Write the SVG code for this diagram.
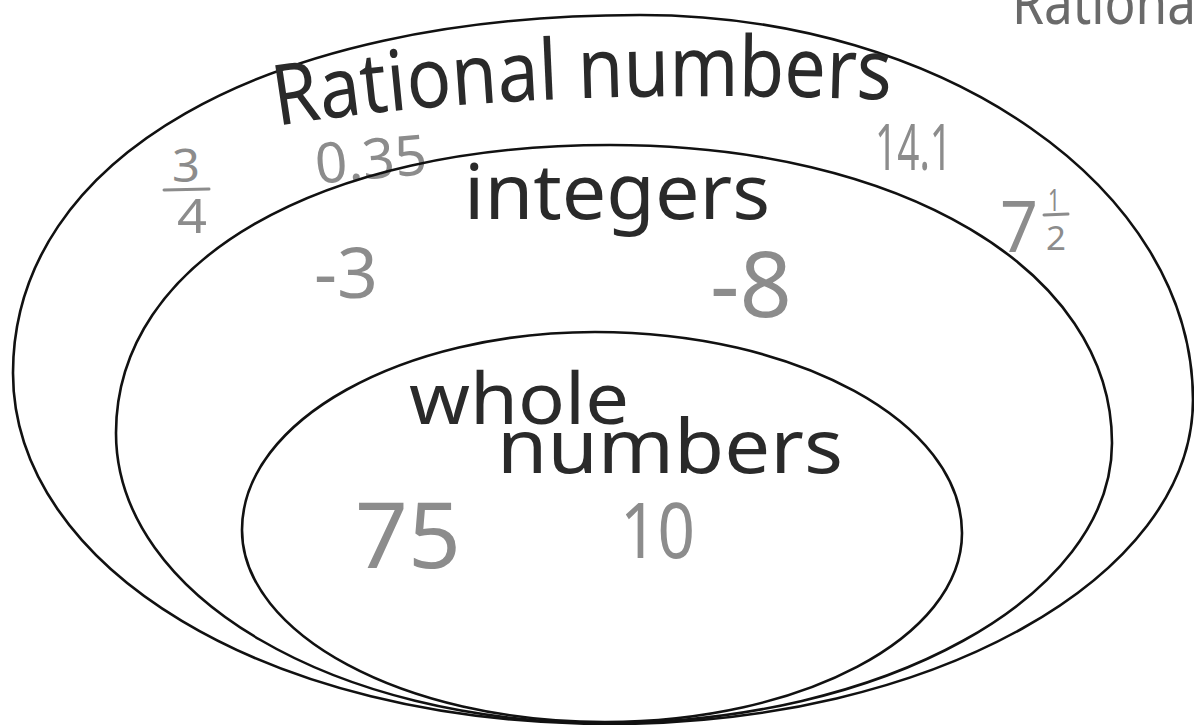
<svg xmlns="http://www.w3.org/2000/svg" width="1194" height="725" viewBox="0 0 1194 725">
  <style>
    .ring { fill: none; stroke: #111; stroke-width: 2.6; }
    .label { font-family: "Noto Sans", "Liberation Sans", sans-serif; fill: #2a2a2a; font-weight: 400; }
    .num { font-family: "Noto Sans", "Liberation Sans", sans-serif; fill: #8c8c8c; font-weight: 400; }
    .bar { stroke: #8c8c8c; stroke-width: 3; stroke-linecap: round; }
    .corner { font-family: "Noto Sans", "Liberation Sans", sans-serif; fill: #6a6a6a; }
  </style>
  <defs>
    <path id="arc-rational" d="M277,126 C400,106 600,88 895,100"/>
  </defs>
  <rect x="0" y="0" width="1194" height="725" fill="#ffffff"/>

  <g id="corner-label">
    <text class="corner" x="1012" y="24" font-size="60" textLength="184" lengthAdjust="spacingAndGlyphs">Rationa</text>
  </g>

  <g id="node-rational">
    <path class="ring" d="M640,15 C944,15 1193,188 1193,400 C1193,578 931,724 610,724 C264,724 13,566 13,373 C13,158 264,15 640,15 Z"/>
    <text class="label" font-size="84"><textPath href="#arc-rational" textLength="616" lengthAdjust="spacingAndGlyphs">Rational numbers</textPath></text>
    <text class="num" x="172" y="182" font-size="46" textLength="28" lengthAdjust="spacingAndGlyphs">3</text>
    <line class="bar" x1="164" y1="190" x2="209" y2="189"/>
    <text class="num" x="177" y="233" font-size="48" textLength="30" lengthAdjust="spacingAndGlyphs">4</text>
    <text class="num" x="315" y="179" font-size="56" textLength="112" lengthAdjust="spacingAndGlyphs" transform="rotate(-5 370 160)">0.35</text>
    <text class="num" x="875" y="170" font-size="64" textLength="77" lengthAdjust="spacingAndGlyphs">14.1</text>
    <text class="num" x="1000" y="252" font-size="72" textLength="38" lengthAdjust="spacingAndGlyphs">7</text>
    <text class="num" x="1048" y="211" font-size="30" textLength="12" lengthAdjust="spacingAndGlyphs">1</text>
    <line class="bar" x1="1044" y1="215" x2="1068" y2="214"/>
    <text class="num" x="1046" y="250" font-size="33" textLength="20" lengthAdjust="spacingAndGlyphs">2</text>
  </g>

  <g id="node-integers">
    <path class="ring" d="M610,145 C901,145 1112,270 1112,443 C1112,597 884,723 605,723 C336,723 116,597 116,433 C116,260 320,145 610,145 Z"/>
    <text class="label" x="464" y="219" font-size="76" textLength="306" lengthAdjust="spacingAndGlyphs">integers</text>
    <text class="num" x="314" y="298" font-size="70" textLength="64" lengthAdjust="spacingAndGlyphs">-3</text>
    <text class="num" x="710" y="317" font-size="92" textLength="82" lengthAdjust="spacingAndGlyphs">-8</text>
  </g>

  <g id="node-whole">
    <path class="ring" d="M595,332 C797,332 962,422 962,533 C962,638 801,722 605,722 C402,722 242,633 242,530 C242,420 403,332 595,332 Z"/>
    <text class="label" x="409" y="424" font-size="72" textLength="220" lengthAdjust="spacingAndGlyphs">whole</text>
    <text class="label" x="497" y="473" font-size="74" textLength="346" lengthAdjust="spacingAndGlyphs">numbers</text>
    <text class="num" x="355" y="568" font-size="92" textLength="106" lengthAdjust="spacingAndGlyphs">75</text>
    <text class="num" x="620" y="558" font-size="77" textLength="75" lengthAdjust="spacingAndGlyphs">10</text>
  </g>

  <g id="connectors"/>
</svg>
